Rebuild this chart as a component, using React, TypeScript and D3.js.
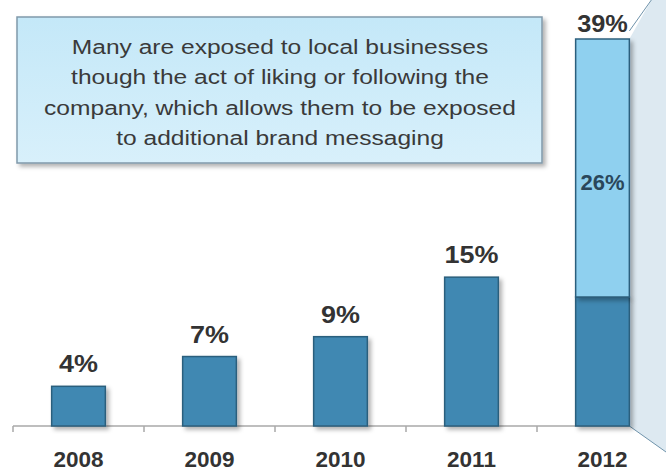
import { useEffect } from 'react';
import * as d3 from 'd3';

const years = ['2008', '2009', '2010', '2011', '2012'];
const baseValues = [4, 7, 9, 15, 13];
const addedValues = [0, 0, 0, 0, 26];
const totalLabels = ['4%', '7%', '9%', '15%', '39%'];
const addedLabels = ['', '', '', '', '26%'];
const calloutLines = [
  'Many are exposed to local businesses',
  'though the act of liking or following the',
  'company, which allows them to be exposed',
  'to additional brand messaging',
];

const width = 666;
const height = 472;
const baseline = 426;

const x = d3.scaleBand<string>().domain(years).range([13, 668]).paddingInner(0.59).paddingOuter(0.295);
const y = d3.scaleLinear().domain([0, 39]).range([baseline, 39]);

const font = '"Liberation Sans", Arial, sans-serif';

const App = () => {
  useEffect(() => {
    document.body.style.margin = '0';
  }, []);

  const last = years[years.length - 1];
  const lastRight = (x(last) ?? 0) + x.bandwidth();
  const lastTop = y(baseValues[4] + addedValues[4]);

  // zoom-out wedge on the right
  const wedge = d3.line()([
    [lastRight, lastTop],
    [lastRight + 22, 0],
    [width, 0],
    [width, 452],
    [lastRight, baseline],
  ]) + 'Z';

  const ticks = d3.range(years.length).map((i) => 13 + i * x.step());

  return (
    <svg width={width} height={height} style={{ display: 'block', fontFamily: font }}>
      <defs>
        <linearGradient id="boxFill" x1="0" y1="0" x2="0" y2="1">
          <stop offset="0%" stopColor="#c4e8f8" />
          <stop offset="100%" stopColor="#d8f0fb" />
        </linearGradient>
        <filter id="shadow" x="-10%" y="-10%" width="130%" height="130%">
          <feDropShadow dx="3" dy="3" stdDeviation="2" floodColor="#000" floodOpacity="0.3" />
        </filter>
      </defs>

      <path d={wedge} fill="#dde9f1" />
      <line x1={lastRight} y1={lastTop - 8} x2={lastRight + 22} y2={0} stroke="#6f93ab" strokeWidth={1} />
      <line x1={lastRight} y1={baseline} x2={width} y2={452} stroke="#6f93ab" strokeWidth={1} />

      {/* callout box */}
      <rect x={17} y={17} width={525} height={146} fill="url(#boxFill)" stroke="#8099aa" strokeWidth={1.5} filter="url(#shadow)" />
      <g transform="translate(280,0) scale(1.17,1)">
        {calloutLines.map((t, i) => (
          <text key={i} x={0} y={54 + i * 30.3} textAnchor="middle" fontSize={21} fill="#3a3a3a">
            {t}
          </text>
        ))}
      </g>

      {/* axis */}
      <line x1={13} x2={lastRight} y1={baseline} y2={baseline} stroke="#a8a8a8" strokeWidth={1.5} />
      {ticks.map((t, i) => (
        <line key={i} x1={t} x2={t} y1={baseline} y2={baseline + 6} stroke="#a8a8a8" strokeWidth={1.5} />
      ))}

      {/* bars */}
      {years.map((yr, i) => {
        const bx = x(yr) ?? 0;
        const bw = x.bandwidth();
        const cx = bx + bw / 2;
        const topBase = y(baseValues[i]);
        const topAll = y(baseValues[i] + addedValues[i]);
        const stacked = addedValues[i] > 0;
        return (
          <g key={yr}>
            <rect x={bx} y={topBase} width={bw} height={baseline - topBase} fill="#3f88b2" stroke="#2c5f7d" strokeWidth={1.5} filter="url(#shadow)" />
            {stacked && (
              <rect x={bx} y={topAll} width={bw} height={topBase - topAll} fill="#8fd0ef" stroke="#2c5f7d" strokeWidth={1.5} filter="url(#shadow)" />
            )}
            {addedLabels[i] && (
              <text x={cx} y={190} textAnchor="middle" fontSize={22} fontWeight="bold" fill="#2a475b">
                {addedLabels[i]}
              </text>
            )}
            <g transform={`translate(${cx},${stacked ? topAll - 7 : topAll - 14}) scale(1.1,1)`}>
              <text x={0} y={0} textAnchor="middle" fontSize={stacked ? 23 : 24.5} fontWeight="bold" fill="#333">
                {totalLabels[i]}
              </text>
            </g>
            <text x={cx} y={467} textAnchor="middle" fontSize={22.5} fontWeight="bold" fill="#333">
              {yr}
            </text>
          </g>
        );
      })}
    </svg>
  );
};

export default App;
